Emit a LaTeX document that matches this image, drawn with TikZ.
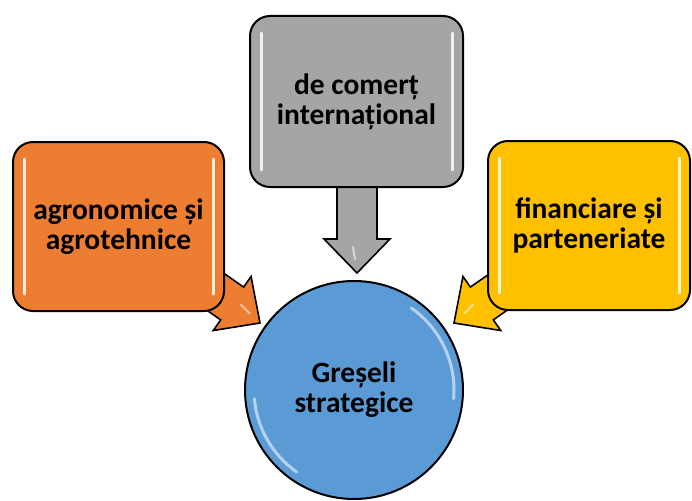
\documentclass[tikz,border=0pt]{standalone}
\usepackage{fontspec}
\setmainfont{Carlito}
\begin{document}
\begin{tikzpicture}[x=1pt,y=-1pt,
  box/.style={draw=black, line width=2pt, rounded corners=20pt, align=center,
    font=\fontsize{29.5}{30}\selectfont\bfseries, inner sep=0pt},
  barrow/.style={draw=black, line width=1.6pt, line join=miter},
  gloss/.style={white, line width=3pt, line cap=round, opacity=0.85},
  sheen/.style={white, line width=3pt, line cap=round, opacity=0.55}]
\definecolor{corange}{HTML}{ED7D31}
\definecolor{cgray}{HTML}{A5A5A5}
\definecolor{cyellow}{HTML}{FFC000}
\definecolor{cblue}{HTML}{5B9BD5}
\useasboundingbox (0,0) rectangle (692,500);
% arrow tips
\coordinate (tipL) at (260,323);
\coordinate (tipR) at (454,323);
\coordinate (tipT) at (357,273);
% block arrows (behind boxes)
\draw[barrow, fill=corange, shift={(tipL)}, rotate=-35]
  (0,0) -- (-34,33) -- (-34,20) -- (-110,20) -- (-110,-20) -- (-34,-20) -- (-34,-33) -- cycle;
\draw[barrow, fill=cyellow, shift={(tipR)}, rotate=-145]
  (0,0) -- (-34,33) -- (-34,20) -- (-110,20) -- (-110,-20) -- (-34,-20) -- (-34,-33) -- cycle;
\draw[barrow, fill=cgray, shift={(tipT)}, rotate=-90]
  (0,0) -- (-34,33) -- (-34,20) -- (-100,20) -- (-100,-20) -- (-34,-20) -- (-34,-33) -- cycle;
% arrow sheen
\draw[sheen, line width=2pt, shift={(tipL)}, rotate=-35] (-26,-4) -- (-14,-2);
\draw[sheen, line width=2pt, shift={(tipR)}, rotate=-145] (-26,4) -- (-14,2);
\draw[sheen, line width=2pt, shift={(tipT)}, rotate=-90] (-26,4) -- (-14,2);
% boxes
\node[box, fill=corange, minimum width=211pt, minimum height=169pt] (agro) at (118.5,226.5)
  {agronomice și\\agrotehnice};
\node[box, fill=cgray, minimum width=213pt, minimum height=171pt] (com) at (356.5,101.5)
  {de comerț\\internațional};
\node[box, fill=cyellow, minimum width=202pt, minimum height=169pt] (fin) at (589,225.5)
  {financiare și\\parteneriate};
% circle
\node[circle, draw=black, line width=2pt, fill=cblue, minimum size=218pt, inner sep=0pt,
  align=center, font=\fontsize{29.5}{30}\selectfont\bfseries] (gres) at (354,390)
  {Greșeli\\strategice};
% gloss highlights on boxes
\draw[gloss] ([xshift=12pt,yshift=-18pt]agro.north west) -- ([xshift=12pt,yshift=18pt]agro.south west);
\draw[gloss] ([xshift=-12pt,yshift=-18pt]agro.north east) -- ([xshift=-12pt,yshift=18pt]agro.south east);
\draw[gloss] ([xshift=12pt,yshift=-18pt]com.north west) -- ([xshift=12pt,yshift=18pt]com.south west);
\draw[gloss] ([xshift=-12pt,yshift=-18pt]com.north east) -- ([xshift=-12pt,yshift=18pt]com.south east);
\draw[gloss] ([xshift=12pt,yshift=-18pt]fin.north west) -- ([xshift=12pt,yshift=18pt]fin.south west);
\draw[gloss] ([xshift=-12pt,yshift=-18pt]fin.north east) -- ([xshift=-12pt,yshift=18pt]fin.south east);
% gloss on circle
\draw[sheen] (gres.center) ++(125:100) arc[start angle=125, end angle=175, radius=100];
\draw[sheen] (gres.center) ++(5:100) arc[start angle=5, end angle=-55, radius=100];
\end{tikzpicture}
\end{document}
